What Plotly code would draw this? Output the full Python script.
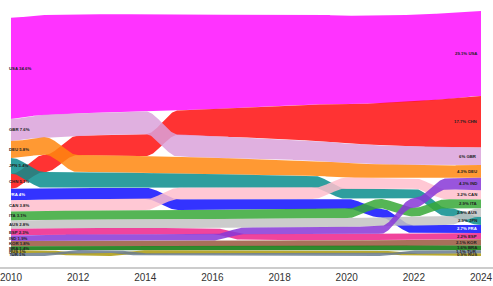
import numpy as np
import plotly.graph_objects as go

years = list(range(2010, 2025))

usa = [34.6, 34.2, 33.8, 33.5, 33.2, 32.8, 32.4, 31.9, 31.4, 30.9, 30.4, 30.0, 29.7, 29.4, 29.1]
chn = [5.1, 5.9, 6.6, 7.1, 7.5, 8.3, 9.2, 10.2, 11.3, 12.3, 13.3, 14.4, 15.4, 16.6, 17.7]
gbr = [7.6, 7.7, 7.7, 7.8, 7.8, 7.6, 7.4, 7.2, 7.0, 6.9, 6.7, 6.5, 6.3, 6.1, 6.0]
deu = [5.8, 6.0, 5.9, 5.9, 5.8, 5.7, 5.6, 5.5, 5.3, 5.2, 5.0, 4.8, 4.6, 4.4, 4.34]
jpn = [5.4, 5.5, 5.4, 5.2, 5.0, 4.9, 4.7, 4.5, 4.3, 4.1, 3.6, 3.45, 3.3, 2.97, 2.88]
fra = [4.0, 4.0, 3.95, 3.9, 3.9, 3.7, 3.7, 3.6, 3.6, 3.5, 3.35, 3.1, 2.85, 2.78, 2.7]
can = [3.8, 3.8, 3.8, 3.8, 3.8, 3.9, 3.9, 3.8, 3.8, 3.8, 3.7, 3.6, 3.5, 3.35, 3.2]
ita = [3.1, 3.1, 3.1, 3.1, 3.15, 3.2, 3.2, 3.2, 3.2, 3.2, 3.25, 3.2, 3.05, 3.0, 2.94]
aus = [2.8, 2.85, 2.9, 2.9, 2.9, 2.95, 2.95, 3.0, 3.0, 3.0, 3.0, 3.0, 2.95, 2.92, 2.91]
esp = [2.3, 2.25, 2.2, 2.2, 2.2, 2.2, 2.15, 2.15, 2.15, 2.15, 2.15, 2.15, 2.2, 2.2, 2.2]
ind = [1.9, 1.95, 2.0, 2.05, 2.1, 2.15, 2.12, 2.25, 2.3, 2.35, 2.5, 2.6, 3.2, 3.8, 4.26]
kor = [1.8, 1.8, 1.85, 1.85, 1.9, 1.9, 1.95, 1.95, 2.0, 2.0, 2.0, 2.05, 2.05, 2.1, 2.1]
bra = [1.4, 1.45, 1.45, 1.5, 1.5, 1.5, 1.5, 1.55, 1.55, 1.55, 1.55, 1.6, 1.6, 1.6, 1.6]
rus = [1.0, 1.05, 1.0, 1.0, 1.0, 0.95, 0.95, 0.95, 0.95, 0.95, 0.9, 0.95, 0.9, 0.9, 0.9]
tur = [0.96, 1.0, 1.05, 1.05, 0.95, 0.9, 0.9, 0.9, 0.9, 0.85, 0.85, 0.85, 0.95, 1.0, 1.1]

codes = ["USA", "CHN", "GBR", "DEU", "JPN", "FRA", "CAN", "ITA", "AUS",
         "ESP", "IND", "KOR", "BRA", "RUS", "TUR"]
series = {"USA": usa, "CHN": chn, "GBR": gbr, "DEU": deu, "JPN": jpn, "FRA": fra,
          "CAN": can, "ITA": ita, "AUS": aus, "ESP": esp, "IND": ind, "KOR": kor,
          "BRA": bra, "RUS": rus, "TUR": tur}
colors = {"USA": "#FF33FF", "CHN": "#FF3333", "GBR": "#E0B0E0", "DEU": "#FF9933",
          "JPN": "#2E9E9E", "FRA": "#3333FF", "CAN": "#FFC8D4", "ITA": "#55B555",
          "AUS": "#CCCCCC", "ESP": "#F0449C", "IND": "#9955DD", "KOR": "#A8705A",
          "BRA": "#2E8B2E", "RUS": "#B8A830", "TUR": "#7F8FA0"}
white_label = {"FRA"}

ALPHA = 0.85


def fill_rgba(hexc, a=ALPHA):
    r, g, b = (int(hexc[i:i + 2], 16) for i in (1, 3, 5))
    conv = lambda c: int(round(min(255, max(0, (c - (1 - a) * 255) / a))))
    return f"rgba({conv(r)},{conv(g)},{conv(b)},{a})"


V = np.array([series[c] for c in codes], dtype=float)
n, T = V.shape
tops = np.zeros_like(V)
bots = np.zeros_like(V)
for t in range(T):
    order = np.argsort(-V[:, t], kind="stable")
    cum = V[:, t].sum()
    for i in order:
        tops[i, t] = cum
        bots[i, t] = cum - V[i, t]
        cum -= V[i, t]

N = 40
s = np.linspace(0, 1, N)
ease = (1 - np.cos(np.pi * s)) / 2

fig = go.Figure()
for i, c in enumerate(codes):
    xs, yt, yb = [], [], []
    for t in range(T - 1):
        sl = slice(0 if t == 0 else 1, None)
        xs.extend((years[t] + s)[sl])
        yt.extend((tops[i, t] + (tops[i, t + 1] - tops[i, t]) * ease)[sl])
        yb.extend((bots[i, t] + (bots[i, t + 1] - bots[i, t]) * ease)[sl])
    px = xs + xs[::-1]
    py = yt + yb[::-1]
    fig.add_trace(go.Scatter(x=px, y=py, fill="toself", mode="lines",
                             line=dict(width=0), fillcolor=fill_rgba(colors[c]),
                             hoverinfo="skip", showlegend=False))


def fmt(v):
    return f"{v:.1f}".rstrip("0").rstrip(".")


LABEL_FONT = dict(size=4.3, family="Liberation Sans", weight="bold")
for i, c in enumerate(codes):
    col = "#FFFFFF" if c in white_label else "#222222"
    yl = (tops[i, 0] + bots[i, 0]) / 2
    fig.add_annotation(x=years[0], y=yl, text=f"{c} {fmt(V[i, 0])}%", showarrow=False,
                       xanchor="left", yanchor="middle", xshift=-4,
                       font=dict(LABEL_FONT, color=col))
    yr = (tops[i, -1] + bots[i, -1]) / 2
    fig.add_annotation(x=years[-1], y=yr, text=f"{fmt(V[i, -1])}% {c}", showarrow=False,
                       xanchor="right", yanchor="middle", xshift=-2,
                       font=dict(LABEL_FONT, color=col))

x0px, x1px = 11, 481
pxy = (x1px - x0px) / 14
scale = 2.92
fig.update_layout(
    width=493, height=286,
    margin=dict(l=0, r=0, t=0, b=19),
    paper_bgcolor="white", plot_bgcolor="white",
    xaxis=dict(range=[2010 - x0px / pxy, 2024 + (493 - x1px) / pxy],
               tickvals=list(range(2010, 2025, 2)), ticklabeloverflow="allow",
               showgrid=False, zeroline=False, showline=True, linecolor="#CCCCCC",
               linewidth=1.5, ticks="", tickfont=dict(size=10, color="#333333",
                                                      family="Liberation Sans")),
    yaxis=dict(range=[-11 / scale, 256 / scale], visible=False, showgrid=False,
               zeroline=False),
)

fig.write_html("out.html")
